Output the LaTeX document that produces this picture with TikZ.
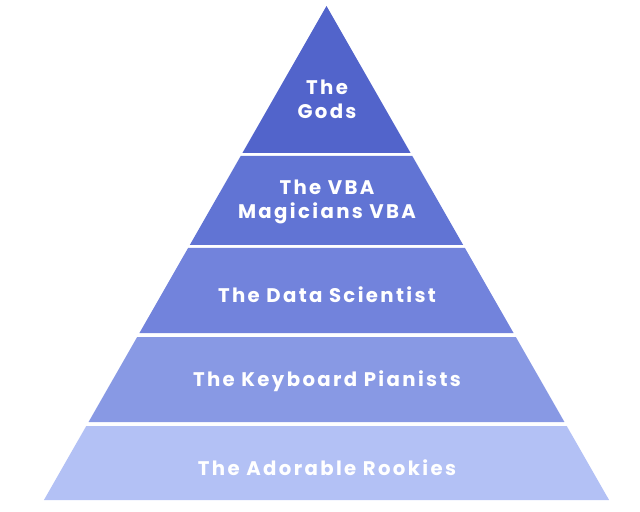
\documentclass[tikz,border=0pt]{standalone}
\usepackage{fontspec}
\setmainfont{Poppins}[LetterSpace=12]
\usepackage{tikz}
\usetikzlibrary{positioning}
\usepackage{xcolor}
\definecolor{LvlA}{RGB}{82, 100, 203}
\definecolor{LvlB}{RGB}{97, 116, 212}
\definecolor{LvlC}{RGB}{114, 131, 220}
\definecolor{LvlD}{RGB}{136, 153, 228}
\definecolor{LvlE}{RGB}{179, 193, 245}

\begin{document}
\begin{tikzpicture}[x=0.025cm,y=-0.025cm,
    lbl/.style={text=white,align=center,font=\bfseries\fontsize{14}{17}\selectfont}]
  \useasboundingbox (0,0) rectangle (640,512);
  % bands of the pyramid, top to bottom
  \foreach \t/\b/\c in {6/153/LvlA,156/245/LvlB,248/333/LvlC,
                        337/422/LvlD,426/500/LvlE}{
    \fill[\c] ({326.5-0.572*(\t-6)},\t) -- ({326.5+0.572*(\t-6)},\t)
      -- ({326.5+0.572*(\b-6)},\b) -- ({326.5-0.572*(\b-6)},\b) -- cycle;}
  \node[lbl] (gods)    at (327,99)  {The\\Gods};
  \node[lbl] (magic)   at (327,202) {The VBA\\Magicians VBA};
  \node[lbl] (science) at (327,295) {The Data Scientist};
  \node[lbl] (piano)   at (327,381) {The Keyboard Pianists};
  \node[lbl] (rookie)  at (327,468) {The Adorable Rookies};
\end{tikzpicture}
\end{document}
